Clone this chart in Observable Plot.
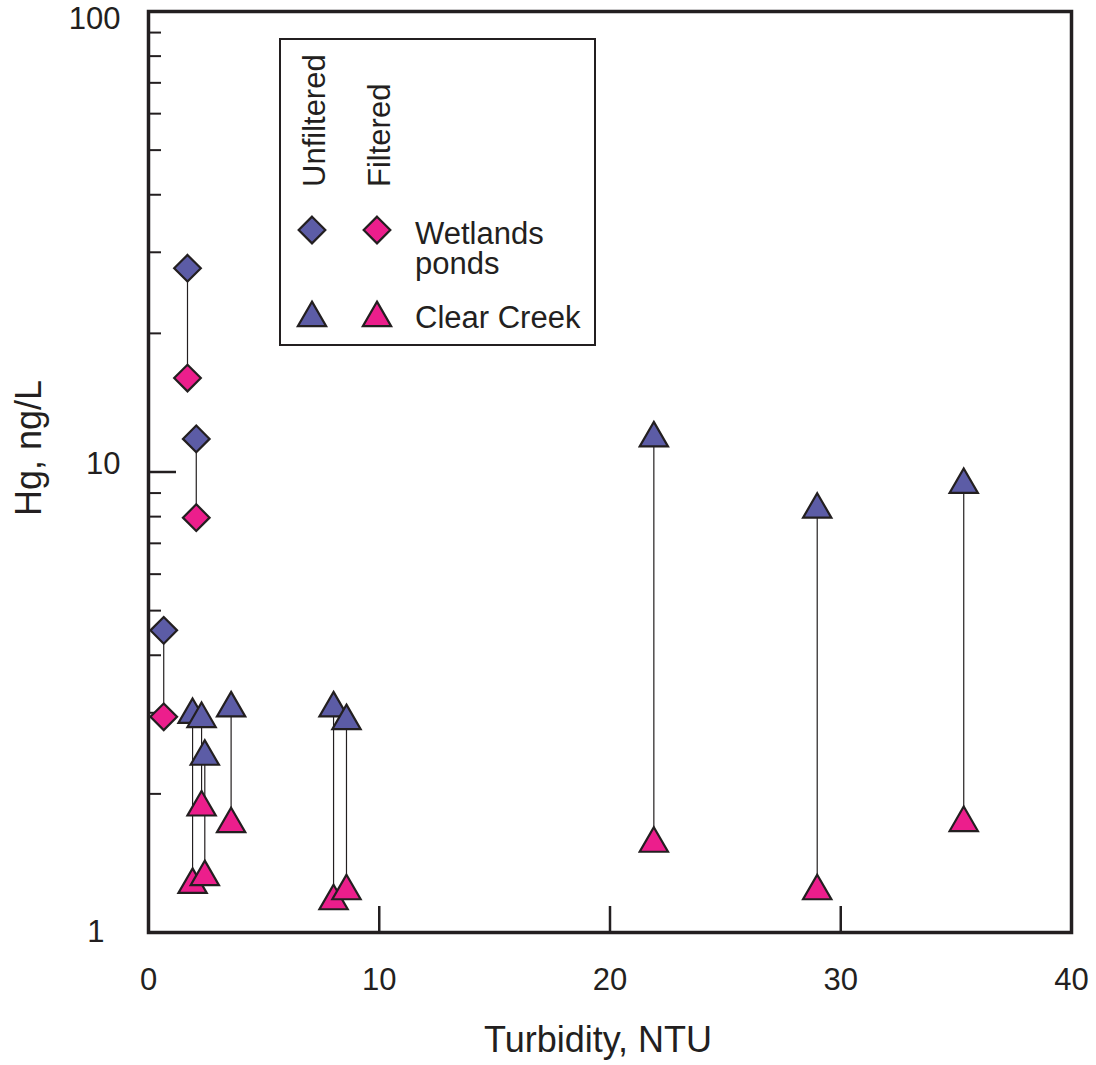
<!DOCTYPE html>
<html>
<head>
<meta charset="utf-8">
<script src="https://cdn.jsdelivr.net/npm/d3@7"></script>
<script src="https://cdn.jsdelivr.net/npm/@observablehq/plot@0.6"></script>
<style>
  body { margin: 0; background: #ffffff; }
  #chart svg { display: block; }
</style>
</head>
<body>
<div id="chart"></div>
<script>
// ---------- data ----------
const wetlandsTurbidity  = [1.69, 2.07, 0.66];
const wetlandsUnfiltered = [27.7, 11.8, 4.53];
const wetlandsFiltered   = [16.0, 7.96, 2.94];

const creekTurbidity  = [1.91, 2.30, 2.44, 3.58, 8.02, 8.58, 21.9, 28.98, 35.33];
const creekUnfiltered = [2.97, 2.91, 2.41, 3.07, 3.07, 2.88, 11.84, 8.29, 9.38];
const creekFiltered   = [1.27, 1.87, 1.32, 1.72, 1.17, 1.23, 1.56, 1.23, 1.73];

const xTickLabels = [0, 10, 20, 30, 40];
const xInnerTicks = [10, 20, 30];
const yMajorInner = [10];
const yMinorTicks = [2, 3, 4, 5, 6, 7, 8, 9, 20, 30, 40, 50, 60, 70, 80, 90];

const seriesNames = ["Unfiltered", "Filtered"];
const siteNames = ["Wetlands\nponds", "Clear Creek"];

// ---------- styling ----------
const ink = "#231f20";
const unfilteredColor = "#5c5ca6";
const filteredColor = "#ec1e8c";
const font = "'Liberation Sans', Arial, Helvetica, sans-serif";
const diamondR = 12;
const triangleR = 10.5;

const wetlands = wetlandsTurbidity.map((t, i) => ({turbidity: t, unfiltered: wetlandsUnfiltered[i], filtered: wetlandsFiltered[i]}));
const creek = creekTurbidity.map((t, i) => ({turbidity: t, unfiltered: creekUnfiltered[i], filtered: creekFiltered[i]}));

const dotStyle = {stroke: ink, strokeWidth: 2.2, strokeLinejoin: "miter"};
const yLabelStyle = {tickSize: 0, tickPadding: 28, fontSize: 31, label: null, tickFormat: d => String(d)};

const chart = Plot.plot({
  width: 1096,
  height: 1065,
  marginLeft: 148,
  marginRight: 25,
  marginTop: 11,
  marginBottom: 133,
  style: {color: ink, fontFamily: font, background: "#ffffff"},
  x: {domain: [0, 40]},
  y: {type: "log", domain: [1, 100]},
  marks: [
    // connecting lines
    Plot.ruleX(wetlands, {x: "turbidity", y1: "unfiltered", y2: "filtered", stroke: ink, strokeWidth: 1.2}),
    Plot.ruleX(creek, {x: "turbidity", y1: "unfiltered", y2: "filtered", stroke: ink, strokeWidth: 1.2}),
    // axes: inward tick marks
    Plot.axisY({ticks: yMinorTicks, tickSize: -13, tickFormat: () => "", label: null, strokeWidth: 2}),
    Plot.axisY({ticks: yMajorInner, tickSize: -28, tickFormat: () => "", label: null, strokeWidth: 2.5}),
    Plot.axisX({ticks: xInnerTicks, tickSize: -26, tickFormat: () => "", label: null, strokeWidth: 2.5}),
    // axes: labels
    Plot.axisY({ticks: [100], dy: 8, ...yLabelStyle}),
    Plot.axisY({ticks: [10], dy: -8, ...yLabelStyle}),
    Plot.axisY({ticks: [1], dx: -16, ...yLabelStyle}),
    Plot.axisX({ticks: xTickLabels, tickSize: 0, tickPadding: 35, fontSize: 31, label: null, tickFormat: d => String(d)}),
    // points
    Plot.dot(wetlands, {x: "turbidity", y: "unfiltered", symbol: "diamond2", r: diamondR, fill: unfilteredColor, ...dotStyle}),
    Plot.dot(wetlands, {x: "turbidity", y: "filtered", symbol: "diamond2", r: diamondR, fill: filteredColor, ...dotStyle}),
    Plot.dot(creek, {x: "turbidity", y: "unfiltered", symbol: "triangle", r: triangleR, fill: unfilteredColor, ...dotStyle}),
    Plot.dot(creek, {x: "turbidity", y: "filtered", symbol: "triangle", r: triangleR, fill: filteredColor, ...dotStyle}),
    // axis titles
    Plot.text(["Turbidity, NTU"], {text: d => d, frameAnchor: "bottom", textAnchor: "middle", lineAnchor: "middle", dx: -12, dy: 108, fontSize: 36, fill: ink}),
    Plot.text(["Hg, ng/L"], {text: d => d, frameAnchor: "left", textAnchor: "middle", lineAnchor: "middle", rotate: -90, dx: -119, dy: -24, fontSize: 36, fill: ink}),
    Plot.frame({stroke: ink, strokeWidth: 3.5})
  ]
});

// ---------- legend ----------
const svg = d3.select(chart);
const lg = svg.append("g").attr("font-family", font).attr("fill", ink).attr("text-anchor", "start");
lg.append("rect").attr("x", 280).attr("y", 39).attr("width", 315).attr("height", 306)
  .attr("fill", "#ffffff").attr("stroke", ink).attr("stroke-width", 2);

const colX = [312, 377];
const colColors = [unfilteredColor, filteredColor];
seriesNames.forEach((name, i) => {
  lg.append("text")
    .attr("transform", `translate(${colX[i] + 13},187) rotate(-90)`)
    .attr("font-size", 31)
    .attr("text-anchor", "start")
    .text(name);
});
const rowY = [230, 318];
const rowSymbols = [
  d3.symbol().type(d3.symbolDiamond2).size(Math.PI * diamondR * diamondR),
  d3.symbol().type(d3.symbolTriangle).size(Math.PI * triangleR * triangleR)
];
rowY.forEach((y, r) => {
  colX.forEach((x, c) => {
    lg.append("path")
      .attr("transform", `translate(${x},${y})`)
      .attr("d", rowSymbols[r]())
      .attr("fill", colColors[c])
      .attr("stroke", ink).attr("stroke-width", 2.2).attr("stroke-linejoin", "miter");
  });
});
// site labels
const wl = lg.append("text").attr("font-size", 31).attr("text-anchor", "start").attr("x", 415).attr("y", 244);
siteNames[0].split("\n").forEach((line, i) => {
  wl.append("tspan").attr("x", 415).attr("dy", i === 0 ? 0 : 30).text(line);
});
lg.append("text").attr("font-size", 31).attr("text-anchor", "start").attr("x", 415).attr("y", 328).text(siteNames[1]);

document.getElementById("chart").appendChild(chart);
</script>
</body>
</html>
